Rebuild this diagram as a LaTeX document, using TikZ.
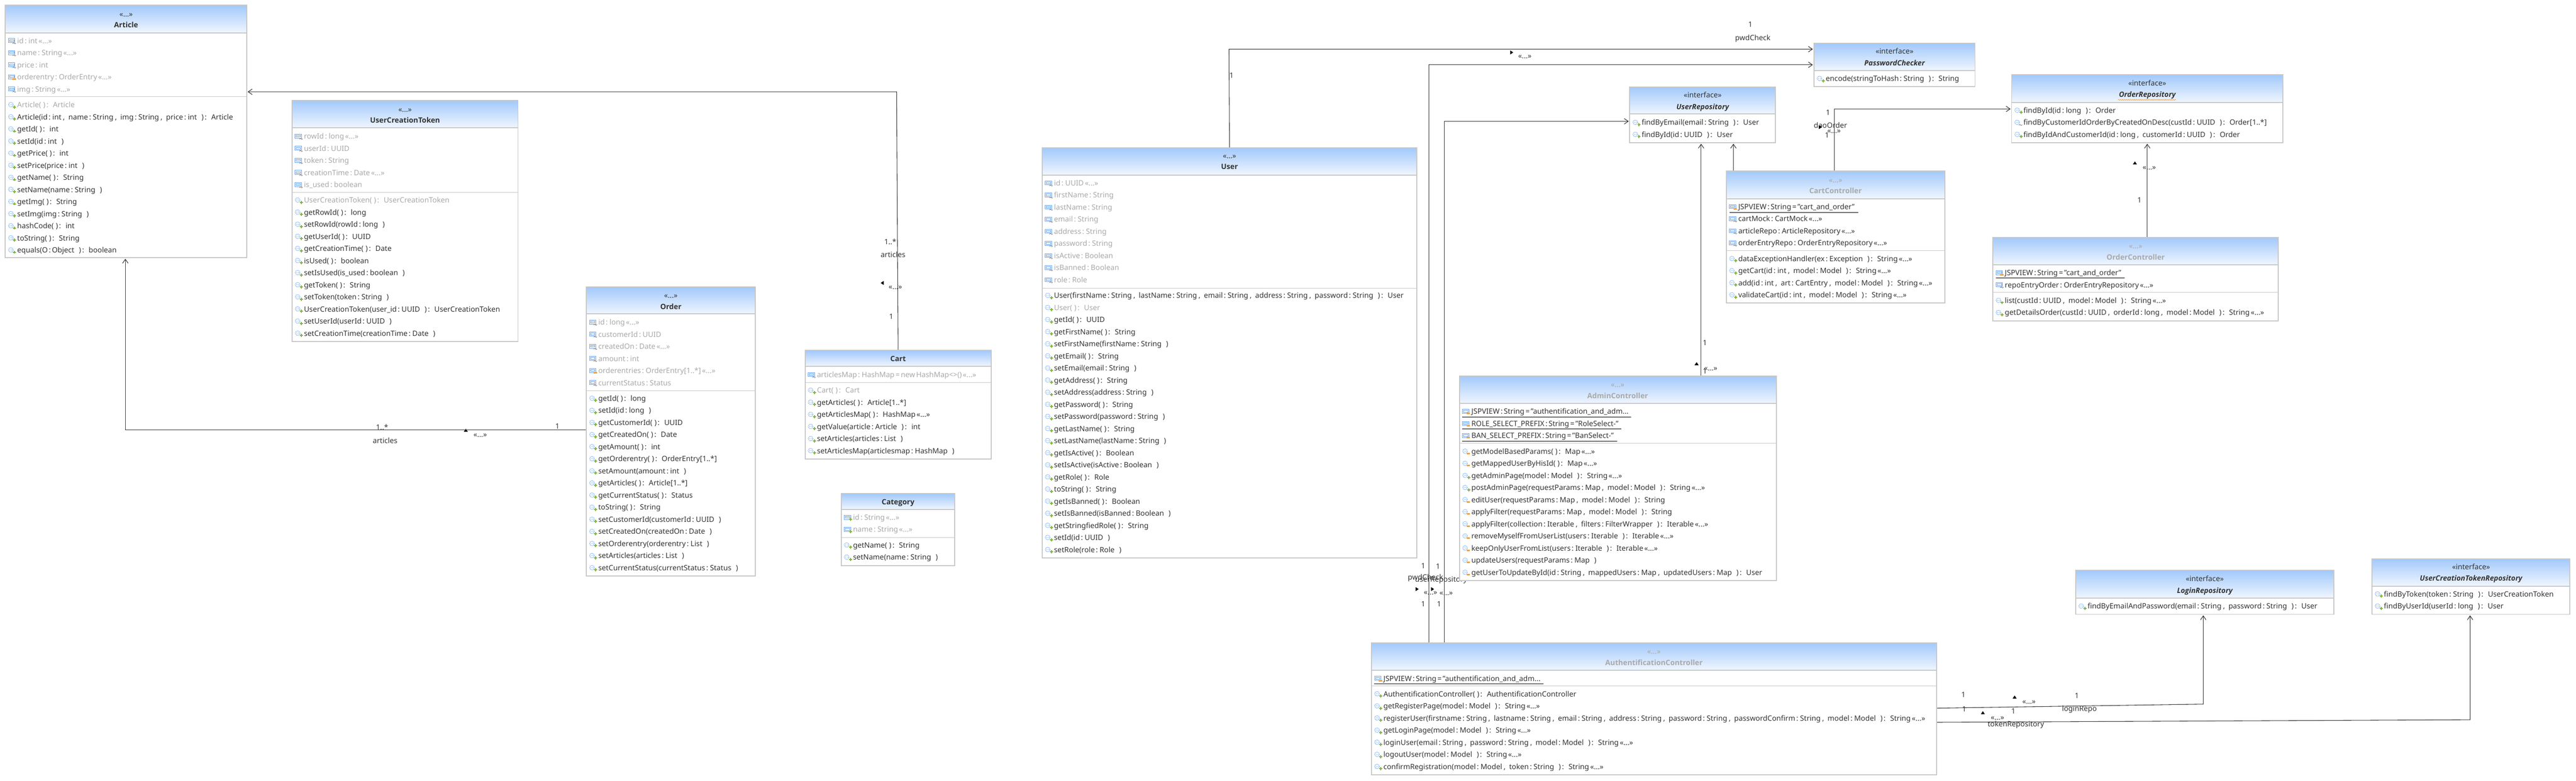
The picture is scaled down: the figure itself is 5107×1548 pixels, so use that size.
\documentclass[tikz,border=0pt]{standalone}
\usepackage{fontspec}
\setmainfont{Noto Sans}
\newfontfamily\titlefont{Open Sans}
\usetikzlibrary{arrows.meta,backgrounds,decorations.pathmorphing}

\definecolor{dark}{HTML}{333333}
\definecolor{lite}{HTML}{A9A9A9}
\definecolor{frame}{HTML}{C8C8C8}
\definecolor{headtop}{HTML}{A2C9FB}
\definecolor{headlow}{HTML}{F0F6FF}
\definecolor{iconblue}{HTML}{6AA5F0}
\definecolor{signplus}{HTML}{80B53C}
\definecolor{signminus}{HTML}{EFA040}
\definecolor{signtilde}{HTML}{8C7F70}

\newcommand{\umlfont}{\fontsize{14.5}{17}\selectfont\spaceskip=2.2pt\relax}
% the gaps of a signature
\newcommand{\noargs}{(\hskip 4pt)\hskip 2.2pt\relax}
\newcommand{\argsep}{\hskip 3pt,\hskip 7pt\relax}
\newcommand{\argend}{\hskip 9pt)\hskip 2.2pt\relax}
\newcommand{\rt}{\hskip 9pt\relax}

\tikzset{
  classbody/.style={draw=frame,line width=2pt,fill=white,inner sep=0pt,outer sep=0pt,anchor=north west},
  classhead/.style={draw=frame,line width=2pt,top color=headtop,bottom color=headlow,inner sep=0pt,outer sep=0pt,anchor=north west},
  rowtext/.style={font=\umlfont,inner sep=0pt,anchor=base west,yshift=-5pt},
  lbl/.style={font=\umlfont,text=dark,inner sep=0pt,anchor=base,yshift=-5pt},
  stereo/.style={lbl},
  grayname/.style={lbl,text=lite,font=\umlfont\titlefont\bfseries},
  darkname/.style={lbl,font=\umlfont\titlefont\bfseries},
  ifacename/.style={lbl,font=\umlfont\titlefont\bfseries\itshape},
  seprow/.style={draw=frame,line width=1pt},
  staticline/.style={draw=black,line width=1pt},
  assoc/.style={draw=dark,line width=1.1pt,shorten >=2pt,-{Straight Barb[length=8pt,width=11pt]}},
  aicon/.pic={
    \draw[iconblue,line width=.9pt] (0,-4.5) rectangle (13,3.5);
    \draw[iconblue,line width=.7pt] (2,-2.5) rectangle (11,1);
  },
  micon/.pic={
    \draw[iconblue,line width=1pt,dash pattern=on 1.6pt off 1.1pt] (5,-.5) circle (4.6);
    \fill[iconblue] (3.4,-.5) circle (.8) (6.6,-.5) circle (.8);
  },
  psign/.pic={
    \draw[signplus,line width=2pt] (9.5,4) -- (15.5,4) (12.5,1) -- (12.5,7);
  },
  osign/.pic={
    \fill[signminus] (8.5,2.5) rectangle (15,5.5);
  },
  tsign/.pic={
    \draw[signtilde,line width=.9pt] (8.5,5.5) .. controls (10,3) and (11.5,3) .. (12,5) .. controls (12.5,6.5) and (14,6) .. (15,4.5);
  }
}

% box with its header
\newcommand{\classbox}[6]{
  \pgfmathsetmacro\boxw{#4-#2}
  \pgfmathsetmacro\boxh{#5-#3}
  \pgfmathsetmacro\headh{#6-#3}
  \node[classbody,minimum width=\boxw pt,minimum height=\boxh pt] (#1) at (#2,#3) {};
  \node[classhead,minimum width=\boxw pt,minimum height=\headh pt] (#1head) at (#2,#3) {};
}
% rows of a compartment: kind/sign/colour/text
\newcommand{\classrows}[4]{
  \foreach \rowkind/\rowsign/\rowcol/\rowtxt [count=\rownum] in {#4} {
    \pic at (#2+6,{#3+(\rownum-1)*24}) {\rowkind icon};
    \pic at (#2+6,{#3+(\rownum-1)*24}) {\rowsign sign};
    \node[rowtext,text=\rowcol] (#1-\rowkind\rownum) at (#2+23.5,{#3+(\rownum-1)*24}) {\rowtxt};
  }
}

\begin{document}
\begin{tikzpicture}[x=1pt,y=-1pt]
\useasboundingbox (0,0) rectangle (5107,1548);

% Article
\classbox{article}{10.5}{10.5}{489}{511}{65}
\node[stereo] (article-st) at (250,28) {«...»};
\node[darkname] (article-nm) at (250,50) {Article};
\classrows{article}{10.5}{81}{a/t/lite/{id : int «...»},a/t/lite/{name : String «...»},a/t/lite/{price : int},a/o/lite/{orderentry : OrderEntry «...»},a/t/lite/{img : String «...»}}
\draw[seprow] (article.west |- 0,192) -- (article.east |- 0,192);
\classrows{article}{10.5}{208}{m/p/lite/{Article\noargs:\rt Article},m/p/dark/{Article(id : int\argsep name : String\argsep img : String\argsep price : int\argend:\rt Article},
  m/p/dark/{getId\noargs:\rt int},m/p/dark/{setId(id : int\argend},m/p/dark/{getPrice\noargs:\rt int},m/p/dark/{setPrice(price : int\argend},
  m/p/dark/{getName\noargs:\rt String},m/p/dark/{setName(name : String\argend},m/p/dark/{getImg\noargs:\rt String},m/p/dark/{setImg(img : String\argend},
  m/p/dark/{hashCode\noargs:\rt int},m/p/dark/{toString\noargs:\rt String},m/p/dark/{equals(O : Object\argend:\rt boolean}}

% UserCreationToken
\classbox{token}{579}{199}{1027}{677}{253.5}
\node[stereo] (token-st) at (803,217) {«...»};
\node[darkname] (token-nm) at (803,239) {UserCreationToken};
\classrows{token}{579}{270.5}{a/t/lite/{rowId : long «...»},a/t/lite/{userId : UUID},a/t/lite/{token : String},a/t/lite/{creationTime : Date «...»},a/t/lite/{is\_used : boolean}}
\draw[seprow] (token.west |- 0,381) -- (token.east |- 0,381);
\classrows{token}{579}{397}{m/p/lite/{UserCreationToken\noargs:\rt UserCreationToken},m/p/dark/{getRowId\noargs:\rt long},m/p/dark/{setRowId(rowId : long\argend},
  m/p/dark/{getUserId\noargs:\rt UUID},m/p/dark/{getCreationTime\noargs:\rt Date},m/p/dark/{isUsed\noargs:\rt boolean},m/p/dark/{setIsUsed(is\_used : boolean\argend},
  m/p/dark/{getToken\noargs:\rt String},m/p/dark/{setToken(token : String\argend},m/p/dark/{UserCreationToken(user\_id : UUID\argend:\rt UserCreationToken},
  m/p/dark/{setUserId(userId : UUID\argend},m/p/dark/{setCreationTime(creationTime : Date\argend}}

% Order
\classbox{order}{1162.5}{569}{1497}{1142}{622.5}
\node[stereo] (order-st) at (1330,586) {«...»};
\node[darkname] (order-nm) at (1330,608) {Order};
\classrows{order}{1162.5}{639}{a/t/lite/{id : long «...»},a/t/lite/{customerId : UUID},a/t/lite/{createdOn : Date «...»},a/t/lite/{amount : int},
  a/o/lite/{orderentries : OrderEntry[1..*] «...»},a/t/lite/{currentStatus : Status}}
\draw[seprow] (order.west |- 0,774.5) -- (order.east |- 0,774.5);
\classrows{order}{1162.5}{790}{m/p/dark/{getId\noargs:\rt long},m/p/dark/{setId(id : long\argend},m/p/dark/{getCustomerId\noargs:\rt UUID},m/p/dark/{getCreatedOn\noargs:\rt Date},
  m/p/dark/{getAmount\noargs:\rt int},m/p/dark/{getOrderentry\noargs:\rt OrderEntry[1..*]},m/p/dark/{setAmount(amount : int\argend},m/p/dark/{getArticles\noargs:\rt Article[1..*]},
  m/p/dark/{getCurrentStatus\noargs:\rt Status},m/p/dark/{toString\noargs:\rt String},m/p/dark/{setCustomerId(customerId : UUID\argend},m/p/dark/{setCreatedOn(createdOn : Date\argend},
  m/p/dark/{setOrderentry(orderentry : List\argend},m/p/dark/{setArticles(articles : List\argend},m/p/dark/{setCurrentStatus(currentStatus : Status\argend}}

% Cart
\classbox{cart}{1596}{695}{1965}{910}{726.5}
\node[darkname] (cart-nm) at (1780.5,712) {Cart};
\classrows{cart}{1596}{743}{a/t/lite/{articlesMap : HashMap = new HashMap<>() «...»}}
\draw[seprow] (cart.west |- 0,758) -- (cart.east |- 0,758);
\classrows{cart}{1596}{774}{m/p/lite/{Cart\noargs:\rt Cart},m/p/dark/{getArticles\noargs:\rt Article[1..*]},m/p/dark/{getArticlesMap\noargs:\rt HashMap «...»},
  m/p/dark/{getValue(article : Article\argend:\rt int},m/p/dark/{setArticles(articles : List\argend},m/p/dark/{setArticlesMap(articlesmap : HashMap\argend}}

% Category
\classbox{category}{1667.5}{978.5}{1893}{1121}{1010}
\node[darkname] (category-nm) at (1780.5,995.5) {Category};
\classrows{category}{1667.5}{1026}{a/p/lite/{id : String «...»},a/p/lite/{name : String «...»}}
\draw[seprow] (category.west |- 0,1065.5) -- (category.east |- 0,1065.5);
\classrows{category}{1667.5}{1081}{m/p/dark/{getName\noargs:\rt String},m/p/dark/{setName(name : String\argend}}

% User
\classbox{user}{2066}{293}{2809}{1106}{347}
\node[stereo] (user-st) at (2437.5,309) {«...»};
\node[darkname] (user-nm) at (2437.5,331) {User};
\classrows{user}{2066}{363}{a/t/lite/{id : UUID «...»},a/t/lite/{firstName : String},a/t/lite/{lastName : String},a/t/lite/{email : String},a/t/lite/{address : String},
  a/t/lite/{password : String},a/t/lite/{isActive : Boolean},a/t/lite/{isBanned : Boolean},a/t/lite/{role : Role}}
\draw[seprow] (user.west |- 0,571) -- (user.east |- 0,571);
\classrows{user}{2066}{586}{m/p/dark/{User(firstName : String\argsep lastName : String\argsep email : String\argsep address : String\argsep password : String\argend:\rt User},m/p/lite/{User\noargs:\rt User},
  m/p/dark/{getId\noargs:\rt UUID},m/p/dark/{getFirstName\noargs:\rt String},m/p/dark/{setFirstName(firstName : String\argend},m/p/dark/{getEmail\noargs:\rt String},m/p/dark/{setEmail(email : String\argend},
  m/p/dark/{getAddress\noargs:\rt String},m/p/dark/{setAddress(address : String\argend},m/p/dark/{getPassword\noargs:\rt String},m/p/dark/{setPassword(password : String\argend},
  m/p/dark/{getLastName\noargs:\rt String},m/p/dark/{setLastName(lastName : String\argend},m/p/dark/{getIsActive\noargs:\rt Boolean},m/p/dark/{setIsActive(isActive : Boolean\argend},
  m/p/dark/{getRole\noargs:\rt Role},m/p/dark/{toString\noargs:\rt String},m/p/dark/{getIsBanned\noargs:\rt Boolean},m/p/dark/{setIsBanned(isBanned : Boolean\argend},
  m/p/dark/{getStringfiedRole\noargs:\rt String},m/p/dark/{setId(id : UUID\argend},m/p/dark/{setRole(role : Role\argend}}

% PasswordChecker
\classbox{pwdchecker}{3596}{86}{3915.5}{172}{140}
\node[stereo] (pwdchecker-st) at (3756,102) {«interface»};
\node[ifacename] (pwdchecker-nm) at (3756,125) {PasswordChecker};
\classrows{pwdchecker}{3596}{156}{m/p/dark/{encode(stringToHash : String\argend:\rt String}}

% UserRepository
\classbox{userrepo}{3231}{172.5}{3520}{283}{226}
\node[stereo] (userrepo-st) at (3375.5,189) {«interface»};
\node[ifacename] (userrepo-nm) at (3375.5,212) {UserRepository};
\classrows{userrepo}{3231}{243}{m/p/dark/{findByEmail(email : String\argend:\rt User},m/p/dark/{findById(id : UUID\argend:\rt User}}

% OrderRepository
\classbox{orderrepo}{3988}{148.5}{4526}{283}{203}
\node[stereo] (orderrepo-st) at (4257,165) {«interface»};
\node[ifacename] (orderrepo-nm) at (4257,188) {OrderRepository};
\draw[draw=signminus,line width=.8pt,decorate,decoration={snake,amplitude=1pt,segment length=4pt}] (4199,198) -- (4314,198);
\classrows{orderrepo}{3988}{219}{m/p/dark/{findById(id : long\argend:\rt Order},m/t/dark/{findByCustomerIdOrderByCreatedOnDesc(custId : UUID\argend:\rt Order[1..*]},
  m/p/dark/{findByIdAndCustomerId(id : long\argsep customerId : UUID\argend:\rt Order}}

% CartController
\classbox{cartctrl}{3422.5}{339}{3856}{601}{394}
\node[stereo,text=lite] (cartctrl-st) at (3639,357) {«...»};
\node[grayname] (cartctrl-nm) at (3639,379) {CartController};
\classrows{cartctrl}{3422.5}{410}{a/o/dark/{JSPVIEW : String = "cart\_and\_order"},a/t/dark/{cartMock : CartMock «...»},a/t/dark/{articleRepo : ArticleRepository «...»},
  a/t/dark/{orderEntryRepo : OrderEntryRepository «...»}}
\draw[staticline] (3429,421) -- (3684,421);
\draw[seprow] (cartctrl.west |- 0,497) -- (cartctrl.east |- 0,497);
\classrows{cartctrl}{3422.5}{513}{m/p/dark/{dataExceptionHandler(ex : Exception\argend:\rt String «...»},m/p/dark/{getCart(id : int\argsep model : Model\argend:\rt String «...»},
  m/p/dark/{add(id : int\argsep art : CartEntry\argsep model : Model\argend:\rt String «...»},m/p/dark/{validateCart(id : int\argsep model : Model\argend:\rt String «...»}}

% OrderController
\classbox{orderctrl}{3951}{471}{4517}{636}{525}
\node[stereo,text=lite] (orderctrl-st) at (4234,488) {«...»};
\node[grayname] (orderctrl-nm) at (4234,510) {OrderController};
\classrows{orderctrl}{3951}{541}{a/o/dark/{JSPVIEW : String = "cart\_and\_order"},a/t/dark/{repoEntryOrder : OrderEntryRepository «...»}}
\draw[staticline] (3957,551.5) -- (4212,551.5);
\draw[seprow] (orderctrl.west |- 0,580) -- (orderctrl.east |- 0,580);
\classrows{orderctrl}{3951}{596}{m/p/dark/{list(custId : UUID\argsep model : Model\argend:\rt String «...»},m/p/dark/{getDetailsOrder(custId : UUID\argsep orderId : long\argsep model : Model\argend:\rt String «...»}}

% AdminController
\classbox{admin}{2893.5}{745.5}{3522}{1151}{800}
\node[stereo,text=lite] (admin-st) at (3207,763) {«...»};
\node[grayname] (admin-nm) at (3207,785) {AdminController};
\classrows{admin}{2893.5}{816}{a/o/dark/{JSPVIEW : String = "authentification\_and\_adm...},a/o/dark/{ROLE\_SELECT\_PREFIX : String = "RoleSelect-"},a/o/dark/{BAN\_SELECT\_PREFIX : String = "BanSelect-"}}
\draw[staticline] (2898.5,826.5) -- (3233.5,826.5) (2898.5,850.5) -- (3214.5,850.5) (2898.5,874.5) -- (3206,874.5);
\draw[seprow] (admin.west |- 0,879) -- (admin.east |- 0,879);
\classrows{admin}{2893.5}{895}{m/o/dark/{getModelBasedParams\noargs:\rt Map «...»},m/o/dark/{getMappedUserByHisId\noargs:\rt Map «...»},m/p/dark/{getAdminPage(model : Model\argend:\rt String «...»},
  m/p/dark/{postAdminPage(requestParams : Map\argsep model : Model\argend:\rt String «...»},m/o/dark/{editUser(requestParams : Map\argsep model : Model\argend:\rt String},
  m/o/dark/{applyFilter(requestParams : Map\argsep model : Model\argend:\rt String},m/o/dark/{applyFilter(collection : Iterable\argsep filters : FilterWrapper\argend:\rt Iterable «...»},
  m/o/dark/{removeMyselfFromUserList(users : Iterable\argend:\rt Iterable «...»},m/o/dark/{keepOnlyUserFromList(users : Iterable\argend:\rt Iterable «...»},
  m/o/dark/{updateUsers(requestParams : Map\argend},m/o/dark/{getUserToUpdateById(id : String\argsep mappedUsers : Map\argsep updatedUsers : Map\argend:\rt User}}

% AuthentificationController
\classbox{auth}{2719}{1274.5}{3839}{1536}{1329}
\node[stereo,text=lite] (auth-st) at (3279,1292) {«...»};
\node[grayname] (auth-nm) at (3279,1314) {AuthentificationController};
\classrows{auth}{2719}{1345.5}{a/o/dark/{JSPVIEW : String = "authentification\_and\_adm...}}
\draw[staticline] (2724.5,1355.5) -- (3060,1355.5);
\draw[seprow] (auth.west |- 0,1360) -- (auth.east |- 0,1360);
\classrows{auth}{2719}{1376}{m/p/dark/{AuthentificationController\noargs:\rt AuthentificationController},m/p/dark/{getRegisterPage(model : Model\argend:\rt String «...»},
  m/p/dark/{registerUser(firstname : String\argsep lastname : String\argsep email : String\argsep address : String\argsep password : String\argsep passwordConfirm : String\argsep model : Model\argend:\rt String «...»},
  m/p/dark/{getLoginPage(model : Model\argend:\rt String «...»},m/p/dark/{loginUser(email : String\argsep password : String\argsep model : Model\argend:\rt String «...»},
  m/p/dark/{logoutUser(model : Model\argend:\rt String «...»},m/p/dark/{confirmRegistration(model : Model\argsep token : String\argend:\rt String «...»}}

% LoginRepository
\classbox{loginrepo}{4115}{1131}{4627}{1218}{1186}
\node[stereo] (loginrepo-st) at (4371,1148) {«interface»};
\node[ifacename] (loginrepo-nm) at (4371,1171) {LoginRepository};
\classrows{loginrepo}{4115}{1202}{m/p/dark/{findByEmailAndPassword(email : String\argsep password : String\argend:\rt User}}

% UserCreationTokenRepository
\classbox{tokenrepo}{4702.5}{1108}{5095}{1218}{1162}
\node[stereo] (tokenrepo-st) at (4899,1124) {«interface»};
\node[ifacename] (tokenrepo-nm) at (4899,1147) {UserCreationTokenRepository};
\classrows{tokenrepo}{4702.5}{1178}{m/p/dark/{findByToken(token : String\argend:\rt UserCreationToken},m/p/dark/{findByUserId(userId : long\argend:\rt User}}

% bends of the connectors
\coordinate (articlebend) at (1777.5,182);
\coordinate (orderbend) at (248.5,852.5);
\coordinate (userbend) at (2436.5,97.5);
\coordinate (pwdbend) at (2832.5,128.5);
\coordinate (repobend) at (2863.5,240.5);
\coordinate (adminup) at (3372.5,500);
\coordinate (cartup) at (3436.5,300);
\coordinate (daobend) at (3637,216);
\coordinate (loginout) at (3839,1404);
\coordinate (loginbend) at (4368,1396);
\coordinate (tokenout) at (3839,1432);
\coordinate (tokenbend) at (4897,1427);

\begin{scope}[on background layer]
% labels of the connectors
\foreach \lx/\ly/\lt [count=\ln] in {
  1765/480/{1..*},1770.5/505.5/articles,1775/568/{«...»},1767/628/1,
  757.5/847.5/{1..*},763.5/874/articles,952/862/{«...»},1105/845/1,
  2441.5/150/1,3470/49/1,3475/75/pwdCheck,3023/111/{«...»},
  2821.5/1122/1,2826/1145/pwdCheck,2836/1174/{«...»},2821.5/1198/1,
  2851/1123/1,2857/1149/userRepository,2867/1175/{«...»},2853/1198/1,
  3624/223/1,3629/249/daoOrder,3636/259/{«...»},3622/268/1,
  3380/680/1,3391.5/730/{«...»},3380/736/1,
  4261/332/{«...»},4241.5/397/1,
  3892.5/1377/1,4022.5/1391/{«...»},4117.5/1379/1,4122.5/1405.5/loginRepo,
  3894/1406/1,3960/1422/{«...»},3991.5/1410/1,3996.5/1436/tokenRepository}
  \node[lbl] (lbl-\ln) at (\lx,\ly) {\lt};
% direction marks
\foreach \mx/\my/\mr in {1749/561/90,923.5/853/0,2997/104/-90,2809.5/1168/-90,2840/1168/-90,3609/252/-90,3363.5/721/0,4232.5/323/0,3994/1382/0,3931/1413/0}
  \fill[black,shift={(\mx,\my)},rotate=\mr] (0,-3) -- (4,3) -- (-4,3) -- cycle;
% connectors
\draw[assoc] (cart.north) -- (articlebend) -- (article.east |- articlebend);
\draw[assoc] (order.west |- orderbend) -- (orderbend) -- (orderbend |- article.south);
\draw[assoc] (user.north) -- (userbend) -- (pwdchecker.west |- userbend);
\draw[assoc] (pwdbend |- auth.north) -- (pwdbend) -- (pwdchecker.west |- pwdbend);
\draw[assoc] (repobend |- auth.north) -- (repobend) -- (userrepo.west |- repobend);
\draw[assoc] (adminup |- admin.north) -- (adminup |- userrepo.south);
\draw[assoc] (cartup |- cartctrl.north) -- (cartup |- userrepo.south);
\draw[assoc] (daobend |- cartctrl.north) -- (daobend) -- (orderrepo.west |- daobend);
\draw[assoc] (orderrepo.south |- orderctrl.north) -- (orderrepo.south);
\draw[assoc] (auth.east |- loginout) -- (loginbend) -- (loginbend |- loginrepo.south);
\draw[assoc] (auth.east |- tokenout) -- (tokenbend) -- (tokenbend |- tokenrepo.south);
\end{scope}
\end{tikzpicture}
\end{document}
